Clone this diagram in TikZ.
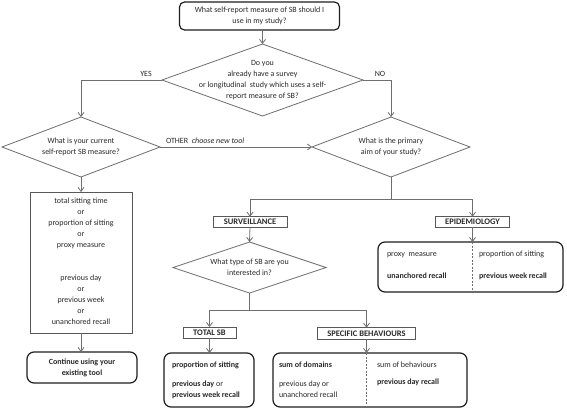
\documentclass[tikz,border=0pt]{standalone}
\usepackage{fontspec}
\setmainfont{Carlito}
\usetikzlibrary{shapes.geometric,arrows.meta}
\definecolor{lnc}{HTML}{6E6E6E}
\definecolor{txc}{HTML}{2A2A2A}
\definecolor{bxc}{HTML}{1E1E1E}
\tikzset{
  every node/.style={font=\fontsize{8}{11}\selectfont, text=txc, inner sep=0pt, outer sep=0pt},
  conn/.style={draw=lnc, line width=0.8pt},
  arr/.style={conn, -{Straight Barb[length=4pt,width=6pt]}},
  dia/.style={diamond, draw=lnc, line width=0.8pt, minimum width=#1},
  rbox/.style={draw=bxc, line width=1.2pt, rounded corners=7pt},
  sbox/.style={draw=lnc!80!black, line width=0.9pt},
  caps/.style={font=\fontsize{8.5}{10}\selectfont\bfseries},
  bld/.style={font=\fontsize{8}{11}\selectfont\bfseries},
  lbl/.style={align=center},
  dv/.style={draw=lnc, line width=0.8pt, dash pattern=on 2pt off 1.5pt}
}
\begin{document}
\begin{tikzpicture}[x=1pt,y=-1pt]
\useasboundingbox[fill=white] (0,0) rectangle (567,410);
% top
\node[rbox, rounded corners=5pt, minimum width=160, minimum height=28, align=center] (top) at (259.5,16) {What self-report measure of SB should I\\use in my study?};
% diamonds
\node[dia=201, minimum height=72] (d1) at (262.5,80) {};
\node[lbl] (d1t) at (d1) {Do you\\already have a survey\\or longitudinal\ \ study which uses a self-\\report measure of SB?};
\node[dia=158, minimum height=60] (d2) at (81,147) {};
\node[lbl] (d2t) at (d2) {What is your current\\self-report SB measure?};
\node[dia=158, minimum height=60] (d3) at (391,147) {};
\node[lbl] (d3t) at (d3) {What is the primary\\aim of your study?};
\node[dia=153, minimum height=51] (d4) at (249.5,267.5) {};
\node[lbl] (d4t) at (d4) {What type of SB are you\\interested in?};
% connectors top part
\draw[arr] (top.south -| d1.north) -- (d1.north);
\draw[arr] (d1.west) -| (d2.north);
\draw[arr] (d1.east) -| (d3.north);
\draw[arr] (d2.east) -- (d3.west);
\node[anchor=base] (yes) at (146,76) {YES};
\node[anchor=base] (no) at (380,76) {NO};
\node[anchor=base west] (oth) at (166,143) {OTHER\ \ \textit{choose new tool}};
% left column
\node[sbox, minimum width=102, minimum height=141] (lb) at (81,262.5) {};
\node[lbl, anchor=north] (lbt) at (81,197.5) {total sitting time\\or\\proportion of sitting\\or\\proxy measure\\[22pt]previous day\\or\\previous week\\or\\unanchored recall};
\node[rbox, minimum width=110, minimum height=31, align=center, bld] (cont) at (82,367.5) {Continue using your\\existing tool};
\draw[arr] (d2.south) -- (lb.north);
\draw[arr] (lb.south) -- (lb.south |- cont.north);
% level 2
\node[sbox, minimum width=74, minimum height=10.5, caps] (surv) at (250,222) {SURVEILLANCE};
\node[sbox, minimum width=74, minimum height=10.5, caps] (epi) at (472.5,222) {EPIDEMIOLOGY};
\draw[conn] (d3.south) -- ++(0,22) coordinate (j1);
\draw[arr] (j1) -| (surv.north);
\draw[arr] (j1) -| (epi.north);
\draw[arr] (surv.south) -- (d4.north);
% epidemiology box
\node[rbox, minimum width=185, minimum height=50] (eb) at (470.5,267) {};
\draw[arr] (epi.south) -- (epi.south |- eb.north);
\draw[dv] (epi.south |- eb.north) -- (epi.south |- eb.south);
\node[anchor=base west] (e1) at (387,256) {proxy\ \ measure};
\node[anchor=base west, bld] (e2) at (387,278) {unanchored recall};
\node[anchor=base west] (e3) at (479,256) {proportion of sitting};
\node[anchor=base west, bld] (e4) at (479,278) {previous week recall};
% level 3
\node[sbox, minimum width=53, minimum height=11, caps] (tot) at (209.5,332.5) {TOTAL SB};
\node[sbox, minimum width=98, minimum height=11.5, caps] (spec) at (366.5,333.5) {SPECIFIC BEHAVIOURS};
\draw[conn] (d4.south) -- ++(0,17.5) coordinate (j2);
\draw[arr] (j2) -| (tot.north);
\draw[arr] (j2) -| (spec.north);
% total box
\node[rbox, minimum width=90, minimum height=54] (tb) at (209,380) {};
\draw[arr] (tot.south) -- (tot.south |- tb.north);
\node[anchor=base west, bld] (t1) at (172,367) {proportion of sitting};
\node[anchor=base west] (t2) at (172,386) {\textbf{previous day} or};
\node[anchor=base west, bld] (t3) at (172,397.5) {previous week recall};
% specific box
\node[rbox, minimum width=194, minimum height=54] (sb) at (370,380) {};
\draw[arr] (spec.south) -- (spec.south |- sb.north);
\draw[dv] (spec.south |- sb.north) -- (spec.south |- sb.south);
\node[anchor=base west, bld] (s1) at (279,367) {sum of domains};
\node[anchor=base west] (s2) at (279,386) {previous day or};
\node[anchor=base west] (s3) at (279,397.5) {unanchored recall};
\node[anchor=base west] (s4) at (377,367) {sum of behaviours};
\node[anchor=base west, bld] (s5) at (377,384) {previous day recall};
\end{tikzpicture}
\end{document}
